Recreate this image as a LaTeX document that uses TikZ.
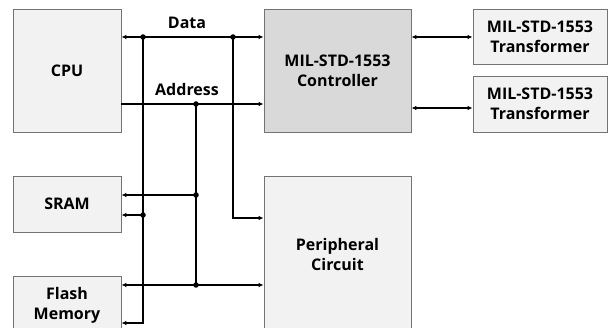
\documentclass[tikz,border=0pt]{standalone}
\usepackage{fontspec}
\setmainfont{Open Sans}
\usetikzlibrary{arrows.meta}
\tikzset{BusChart/.style = {% styles of this picture
     block/.style = {rectangle, draw=gray!90!black, fill=gray!10, line width=0.8pt,
                     align=center, inner sep=0pt,
                     font=\fontsize{16}{20}\selectfont\bfseries},
      ctrlblock/.style = {block, fill=gray!30},
       bus/.style = {line width=1.3pt},
     arrow/.style = {bus, -{Latex[length=5pt,width=4.5pt]}},
    darrow/.style = {bus, {Latex[length=5pt,width=4.5pt]}-{Latex[length=5pt,width=4.5pt]}},
       dot/.style = {circle, fill, inner sep=0pt, minimum size=5.5pt},
  buslabel/.style = {font=\fontsize{16}{20}\selectfont\bfseries}}
        }

\begin{document}
\begin{tikzpicture}[BusChart, x=1pt, y=-1pt]
\useasboundingbox (0,0) rectangle (608,328);
\clip (0,0) rectangle (608,328);

% nodes
\node (cpu)    [block, minimum width=108pt, minimum height=123pt] at (67,70.5) {CPU};
\node (ctrl)   [ctrlblock, minimum width=147pt, minimum height=123pt] at (337.5,70.5) {MIL-STD-1553\\Controller};
\node (trans1) [block, minimum width=134pt, minimum height=55pt] at (540,36.5) {MIL-STD-1553\\Transformer};
\node (trans2) [block, minimum width=134pt, minimum height=56pt] at (540,104) {MIL-STD-1553\\Transformer};
\node (sram)   [block, minimum width=108pt, minimum height=56pt] at (67,204) {SRAM};
\node (flash)  [block, minimum width=108pt, minimum height=58pt] at (67,305) {Flash\\Memory};
\node (periph) [block, minimum width=147pt, minimum height=158pt] at (337.5,255) {Peripheral\\Circuit};

% bus points
\coordinate (d1) at (143,37);
\coordinate (d2) at (233,37);
\coordinate (a1) at (196,104);
\coordinate (s1) at (196,195);
\coordinate (s2) at (143,215);
\coordinate (f1) at (196,285);
\coordinate (f2) at (143,323);
\coordinate (p1) at (233,218);
\coordinate (t1) at (442,37);
\coordinate (t2) at (442,108);

% labels
\node (datalbl) [buslabel] at (187,23) {Data};
\node (addrlbl) [buslabel] at (187,90) {Address};

% buses
\draw [darrow]  (cpu.east |- d1) -- (ctrl.west |- d1);
\draw [arrow]   (cpu.east |- a1) -- (ctrl.west |- a1);
\draw [arrow]   (d1) |- (flash.east |- f2);
\draw [arrow]   (s2) -- (sram.east |- s2);
\draw [bus]     (a1) -- (f1);
\draw [arrow]   (s1) -- (sram.east |- s1);
\draw [darrow]  (flash.east |- f1) -- (periph.west |- f1);
\draw [arrow]   (d2) |- (periph.west |- p1);
\draw [darrow]  (ctrl.east |- t1) -- (trans1.west |- t1);
\draw [darrow]  (ctrl.east |- t2) -- (trans2.west |- t2);

% junctions
\foreach \p in {d1,d2,a1,s1,s2,f1}
  \node [dot] at (\p) {};

\end{tikzpicture}
\end{document}
